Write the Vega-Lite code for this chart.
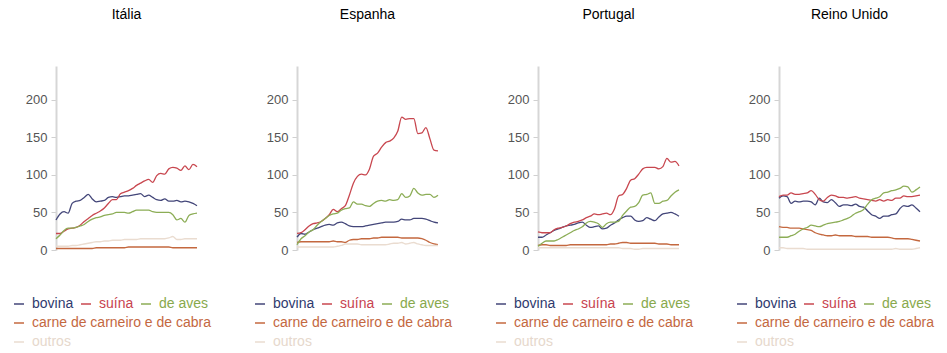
{
"$schema":"https://vega.github.io/schema/vega-lite/v6.json",
"background":"white",
"padding":{"left":12,"top":8,"right":5,"bottom":5},
"config":{
 "view":{"stroke":null},
 "font":"Liberation Sans",
 "title":{"fontSize":14,"fontWeight":"normal","color":"#000000","anchor":"middle","offset":44,"baseline":"alphabetic","font":"Liberation Sans"},
 "axisY":{"domainColor":"#d6d6d6","domainWidth":2,"tickColor":"#d0d0d0","tickSize":5,"tickWidth":1,"labelColor":"#555555","labelFontSize":13,"labelFont":"Liberation Sans","labelPadding":4,"grid":false,"tickCount":5},
 "legend":{"symbolType":"stroke","symbolSize":100,"symbolStrokeWidth":1.5,"labelFontSize":14,"labelFont":"Liberation Sans","labelOffset":6,"labelLimit":400,"columnPadding":4,"rowPadding":5,"padding":0,"orient":"none"}
},
"data":{"values":[
{"pais":"Itália","tipo":"bovina","t":0,"v":40},{"pais":"Itália","tipo":"bovina","t":1,"v":48},{"pais":"Itália","tipo":"bovina","t":2,"v":51},{"pais":"Itália","tipo":"bovina","t":3,"v":49},{"pais":"Itália","tipo":"bovina","t":4,"v":62},{"pais":"Itália","tipo":"bovina","t":5,"v":65},{"pais":"Itália","tipo":"bovina","t":6,"v":66},{"pais":"Itália","tipo":"bovina","t":7,"v":70},{"pais":"Itália","tipo":"bovina","t":8,"v":74},{"pais":"Itália","tipo":"bovina","t":9,"v":68},{"pais":"Itália","tipo":"bovina","t":10,"v":64},{"pais":"Itália","tipo":"bovina","t":11,"v":65},{"pais":"Itália","tipo":"bovina","t":12,"v":66},{"pais":"Itália","tipo":"bovina","t":13,"v":70},{"pais":"Itália","tipo":"bovina","t":14,"v":71},{"pais":"Itália","tipo":"bovina","t":15,"v":70},{"pais":"Itália","tipo":"bovina","t":16,"v":71},{"pais":"Itália","tipo":"bovina","t":17,"v":72},{"pais":"Itália","tipo":"bovina","t":18,"v":72},{"pais":"Itália","tipo":"bovina","t":19,"v":73},{"pais":"Itália","tipo":"bovina","t":20,"v":74},{"pais":"Itália","tipo":"bovina","t":21,"v":75},{"pais":"Itália","tipo":"bovina","t":22,"v":71},{"pais":"Itália","tipo":"bovina","t":23,"v":73},{"pais":"Itália","tipo":"bovina","t":24,"v":70},{"pais":"Itália","tipo":"bovina","t":25,"v":67},{"pais":"Itália","tipo":"bovina","t":26,"v":66},{"pais":"Itália","tipo":"bovina","t":27,"v":68},{"pais":"Itália","tipo":"bovina","t":28,"v":65},{"pais":"Itália","tipo":"bovina","t":29,"v":65},{"pais":"Itália","tipo":"bovina","t":30,"v":66},{"pais":"Itália","tipo":"bovina","t":31,"v":64},{"pais":"Itália","tipo":"bovina","t":32,"v":65},{"pais":"Itália","tipo":"bovina","t":33,"v":64},{"pais":"Itália","tipo":"bovina","t":34,"v":62},{"pais":"Itália","tipo":"bovina","t":35,"v":59},
{"pais":"Itália","tipo":"suína","t":0,"v":22},{"pais":"Itália","tipo":"suína","t":1,"v":22},{"pais":"Itália","tipo":"suína","t":2,"v":25},{"pais":"Itália","tipo":"suína","t":3,"v":28},{"pais":"Itália","tipo":"suína","t":4,"v":29},{"pais":"Itália","tipo":"suína","t":5,"v":30},{"pais":"Itália","tipo":"suína","t":6,"v":33},{"pais":"Itália","tipo":"suína","t":7,"v":38},{"pais":"Itália","tipo":"suína","t":8,"v":42},{"pais":"Itália","tipo":"suína","t":9,"v":46},{"pais":"Itália","tipo":"suína","t":10,"v":49},{"pais":"Itália","tipo":"suína","t":11,"v":52},{"pais":"Itália","tipo":"suína","t":12,"v":56},{"pais":"Itália","tipo":"suína","t":13,"v":62},{"pais":"Itália","tipo":"suína","t":14,"v":67},{"pais":"Itália","tipo":"suína","t":15,"v":67},{"pais":"Itália","tipo":"suína","t":16,"v":75},{"pais":"Itália","tipo":"suína","t":17,"v":77},{"pais":"Itália","tipo":"suína","t":18,"v":79},{"pais":"Itália","tipo":"suína","t":19,"v":82},{"pais":"Itália","tipo":"suína","t":20,"v":86},{"pais":"Itália","tipo":"suína","t":21,"v":89},{"pais":"Itália","tipo":"suína","t":22,"v":92},{"pais":"Itália","tipo":"suína","t":23,"v":94},{"pais":"Itália","tipo":"suína","t":24,"v":90},{"pais":"Itália","tipo":"suína","t":25,"v":99},{"pais":"Itália","tipo":"suína","t":26,"v":102},{"pais":"Itália","tipo":"suína","t":27,"v":101},{"pais":"Itália","tipo":"suína","t":28,"v":108},{"pais":"Itália","tipo":"suína","t":29,"v":110},{"pais":"Itália","tipo":"suína","t":30,"v":109},{"pais":"Itália","tipo":"suína","t":31,"v":106},{"pais":"Itália","tipo":"suína","t":32,"v":112},{"pais":"Itália","tipo":"suína","t":33,"v":107},{"pais":"Itália","tipo":"suína","t":34,"v":114},{"pais":"Itália","tipo":"suína","t":35,"v":111},
{"pais":"Itália","tipo":"de aves","t":0,"v":15},{"pais":"Itália","tipo":"de aves","t":1,"v":20},{"pais":"Itália","tipo":"de aves","t":2,"v":26},{"pais":"Itália","tipo":"de aves","t":3,"v":29},{"pais":"Itália","tipo":"de aves","t":4,"v":29},{"pais":"Itália","tipo":"de aves","t":5,"v":30},{"pais":"Itália","tipo":"de aves","t":6,"v":32},{"pais":"Itália","tipo":"de aves","t":7,"v":34},{"pais":"Itália","tipo":"de aves","t":8,"v":38},{"pais":"Itália","tipo":"de aves","t":9,"v":41},{"pais":"Itália","tipo":"de aves","t":10,"v":43},{"pais":"Itália","tipo":"de aves","t":11,"v":44},{"pais":"Itália","tipo":"de aves","t":12,"v":46},{"pais":"Itália","tipo":"de aves","t":13,"v":47},{"pais":"Itália","tipo":"de aves","t":14,"v":48},{"pais":"Itália","tipo":"de aves","t":15,"v":50},{"pais":"Itália","tipo":"de aves","t":16,"v":50},{"pais":"Itália","tipo":"de aves","t":17,"v":50},{"pais":"Itália","tipo":"de aves","t":18,"v":49},{"pais":"Itália","tipo":"de aves","t":19,"v":51},{"pais":"Itália","tipo":"de aves","t":20,"v":53},{"pais":"Itália","tipo":"de aves","t":21,"v":53},{"pais":"Itália","tipo":"de aves","t":22,"v":53},{"pais":"Itália","tipo":"de aves","t":23,"v":53},{"pais":"Itália","tipo":"de aves","t":24,"v":51},{"pais":"Itália","tipo":"de aves","t":25,"v":50},{"pais":"Itália","tipo":"de aves","t":26,"v":50},{"pais":"Itália","tipo":"de aves","t":27,"v":50},{"pais":"Itália","tipo":"de aves","t":28,"v":50},{"pais":"Itália","tipo":"de aves","t":29,"v":47},{"pais":"Itália","tipo":"de aves","t":30,"v":40},{"pais":"Itália","tipo":"de aves","t":31,"v":42},{"pais":"Itália","tipo":"de aves","t":32,"v":37},{"pais":"Itália","tipo":"de aves","t":33,"v":46},{"pais":"Itália","tipo":"de aves","t":34,"v":48},{"pais":"Itália","tipo":"de aves","t":35,"v":49},
{"pais":"Itália","tipo":"carne de carneiro e de cabra","t":0,"v":2},{"pais":"Itália","tipo":"carne de carneiro e de cabra","t":1,"v":2},{"pais":"Itália","tipo":"carne de carneiro e de cabra","t":2,"v":2},{"pais":"Itália","tipo":"carne de carneiro e de cabra","t":3,"v":2},{"pais":"Itália","tipo":"carne de carneiro e de cabra","t":4,"v":2},{"pais":"Itália","tipo":"carne de carneiro e de cabra","t":5,"v":2},{"pais":"Itália","tipo":"carne de carneiro e de cabra","t":6,"v":2},{"pais":"Itália","tipo":"carne de carneiro e de cabra","t":7,"v":2},{"pais":"Itália","tipo":"carne de carneiro e de cabra","t":8,"v":2},{"pais":"Itália","tipo":"carne de carneiro e de cabra","t":9,"v":2},{"pais":"Itália","tipo":"carne de carneiro e de cabra","t":10,"v":3},{"pais":"Itália","tipo":"carne de carneiro e de cabra","t":11,"v":3},{"pais":"Itália","tipo":"carne de carneiro e de cabra","t":12,"v":3},{"pais":"Itália","tipo":"carne de carneiro e de cabra","t":13,"v":3},{"pais":"Itália","tipo":"carne de carneiro e de cabra","t":14,"v":3},{"pais":"Itália","tipo":"carne de carneiro e de cabra","t":15,"v":3},{"pais":"Itália","tipo":"carne de carneiro e de cabra","t":16,"v":3},{"pais":"Itália","tipo":"carne de carneiro e de cabra","t":17,"v":3},{"pais":"Itália","tipo":"carne de carneiro e de cabra","t":18,"v":4},{"pais":"Itália","tipo":"carne de carneiro e de cabra","t":19,"v":4},{"pais":"Itália","tipo":"carne de carneiro e de cabra","t":20,"v":4},{"pais":"Itália","tipo":"carne de carneiro e de cabra","t":21,"v":4},{"pais":"Itália","tipo":"carne de carneiro e de cabra","t":22,"v":4},{"pais":"Itália","tipo":"carne de carneiro e de cabra","t":23,"v":4},{"pais":"Itália","tipo":"carne de carneiro e de cabra","t":24,"v":4},{"pais":"Itália","tipo":"carne de carneiro e de cabra","t":25,"v":4},{"pais":"Itália","tipo":"carne de carneiro e de cabra","t":26,"v":4},{"pais":"Itália","tipo":"carne de carneiro e de cabra","t":27,"v":4},{"pais":"Itália","tipo":"carne de carneiro e de cabra","t":28,"v":4},{"pais":"Itália","tipo":"carne de carneiro e de cabra","t":29,"v":3},{"pais":"Itália","tipo":"carne de carneiro e de cabra","t":30,"v":3},{"pais":"Itália","tipo":"carne de carneiro e de cabra","t":31,"v":3},{"pais":"Itália","tipo":"carne de carneiro e de cabra","t":32,"v":3},{"pais":"Itália","tipo":"carne de carneiro e de cabra","t":33,"v":3},{"pais":"Itália","tipo":"carne de carneiro e de cabra","t":34,"v":3},{"pais":"Itália","tipo":"carne de carneiro e de cabra","t":35,"v":3},
{"pais":"Itália","tipo":"outros","t":0,"v":5},{"pais":"Itália","tipo":"outros","t":1,"v":5},{"pais":"Itália","tipo":"outros","t":2,"v":5},{"pais":"Itália","tipo":"outros","t":3,"v":5},{"pais":"Itália","tipo":"outros","t":4,"v":6},{"pais":"Itália","tipo":"outros","t":5,"v":6},{"pais":"Itália","tipo":"outros","t":6,"v":7},{"pais":"Itália","tipo":"outros","t":7,"v":8},{"pais":"Itália","tipo":"outros","t":8,"v":9},{"pais":"Itália","tipo":"outros","t":9,"v":10},{"pais":"Itália","tipo":"outros","t":10,"v":11},{"pais":"Itália","tipo":"outros","t":11,"v":11},{"pais":"Itália","tipo":"outros","t":12,"v":12},{"pais":"Itália","tipo":"outros","t":13,"v":12},{"pais":"Itália","tipo":"outros","t":14,"v":13},{"pais":"Itália","tipo":"outros","t":15,"v":13},{"pais":"Itália","tipo":"outros","t":16,"v":13},{"pais":"Itália","tipo":"outros","t":17,"v":14},{"pais":"Itália","tipo":"outros","t":18,"v":14},{"pais":"Itália","tipo":"outros","t":19,"v":14},{"pais":"Itália","tipo":"outros","t":20,"v":14},{"pais":"Itália","tipo":"outros","t":21,"v":15},{"pais":"Itália","tipo":"outros","t":22,"v":15},{"pais":"Itália","tipo":"outros","t":23,"v":15},{"pais":"Itália","tipo":"outros","t":24,"v":15},{"pais":"Itália","tipo":"outros","t":25,"v":15},{"pais":"Itália","tipo":"outros","t":26,"v":15},{"pais":"Itália","tipo":"outros","t":27,"v":15},{"pais":"Itália","tipo":"outros","t":28,"v":16},{"pais":"Itália","tipo":"outros","t":29,"v":18},{"pais":"Itália","tipo":"outros","t":30,"v":14},{"pais":"Itália","tipo":"outros","t":31,"v":14},{"pais":"Itália","tipo":"outros","t":32,"v":15},{"pais":"Itália","tipo":"outros","t":33,"v":15},{"pais":"Itália","tipo":"outros","t":34,"v":15},{"pais":"Itália","tipo":"outros","t":35,"v":15},
{"pais":"Espanha","tipo":"bovina","t":0,"v":17},{"pais":"Espanha","tipo":"bovina","t":1,"v":22},{"pais":"Espanha","tipo":"bovina","t":2,"v":21},{"pais":"Espanha","tipo":"bovina","t":3,"v":24},{"pais":"Espanha","tipo":"bovina","t":4,"v":27},{"pais":"Espanha","tipo":"bovina","t":5,"v":29},{"pais":"Espanha","tipo":"bovina","t":6,"v":31},{"pais":"Espanha","tipo":"bovina","t":7,"v":33},{"pais":"Espanha","tipo":"bovina","t":8,"v":34},{"pais":"Espanha","tipo":"bovina","t":9,"v":33},{"pais":"Espanha","tipo":"bovina","t":10,"v":36},{"pais":"Espanha","tipo":"bovina","t":11,"v":37},{"pais":"Espanha","tipo":"bovina","t":12,"v":35},{"pais":"Espanha","tipo":"bovina","t":13,"v":32},{"pais":"Espanha","tipo":"bovina","t":14,"v":31},{"pais":"Espanha","tipo":"bovina","t":15,"v":31},{"pais":"Espanha","tipo":"bovina","t":16,"v":31},{"pais":"Espanha","tipo":"bovina","t":17,"v":32},{"pais":"Espanha","tipo":"bovina","t":18,"v":33},{"pais":"Espanha","tipo":"bovina","t":19,"v":34},{"pais":"Espanha","tipo":"bovina","t":20,"v":35},{"pais":"Espanha","tipo":"bovina","t":21,"v":36},{"pais":"Espanha","tipo":"bovina","t":22,"v":37},{"pais":"Espanha","tipo":"bovina","t":23,"v":37},{"pais":"Espanha","tipo":"bovina","t":24,"v":37},{"pais":"Espanha","tipo":"bovina","t":25,"v":38},{"pais":"Espanha","tipo":"bovina","t":26,"v":41},{"pais":"Espanha","tipo":"bovina","t":27,"v":40},{"pais":"Espanha","tipo":"bovina","t":28,"v":40},{"pais":"Espanha","tipo":"bovina","t":29,"v":42},{"pais":"Espanha","tipo":"bovina","t":30,"v":42},{"pais":"Espanha","tipo":"bovina","t":31,"v":42},{"pais":"Espanha","tipo":"bovina","t":32,"v":41},{"pais":"Espanha","tipo":"bovina","t":33,"v":39},{"pais":"Espanha","tipo":"bovina","t":34,"v":37},{"pais":"Espanha","tipo":"bovina","t":35,"v":36},
{"pais":"Espanha","tipo":"suína","t":0,"v":22},{"pais":"Espanha","tipo":"suína","t":1,"v":23},{"pais":"Espanha","tipo":"suína","t":2,"v":27},{"pais":"Espanha","tipo":"suína","t":3,"v":32},{"pais":"Espanha","tipo":"suína","t":4,"v":35},{"pais":"Espanha","tipo":"suína","t":5,"v":36},{"pais":"Espanha","tipo":"suína","t":6,"v":38},{"pais":"Espanha","tipo":"suína","t":7,"v":42},{"pais":"Espanha","tipo":"suína","t":8,"v":47},{"pais":"Espanha","tipo":"suína","t":9,"v":54},{"pais":"Espanha","tipo":"suína","t":10,"v":51},{"pais":"Espanha","tipo":"suína","t":11,"v":55},{"pais":"Espanha","tipo":"suína","t":12,"v":59},{"pais":"Espanha","tipo":"suína","t":13,"v":73},{"pais":"Espanha","tipo":"suína","t":14,"v":89},{"pais":"Espanha","tipo":"suína","t":15,"v":98},{"pais":"Espanha","tipo":"suína","t":16,"v":101},{"pais":"Espanha","tipo":"suína","t":17,"v":100},{"pais":"Espanha","tipo":"suína","t":18,"v":108},{"pais":"Espanha","tipo":"suína","t":19,"v":125},{"pais":"Espanha","tipo":"suína","t":20,"v":129},{"pais":"Espanha","tipo":"suína","t":21,"v":137},{"pais":"Espanha","tipo":"suína","t":22,"v":143},{"pais":"Espanha","tipo":"suína","t":23,"v":145},{"pais":"Espanha","tipo":"suína","t":24,"v":149},{"pais":"Espanha","tipo":"suína","t":25,"v":158},{"pais":"Espanha","tipo":"suína","t":26,"v":177},{"pais":"Espanha","tipo":"suína","t":27,"v":174},{"pais":"Espanha","tipo":"suína","t":28,"v":175},{"pais":"Espanha","tipo":"suína","t":29,"v":175},{"pais":"Espanha","tipo":"suína","t":30,"v":155},{"pais":"Espanha","tipo":"suína","t":31,"v":156},{"pais":"Espanha","tipo":"suína","t":32,"v":163},{"pais":"Espanha","tipo":"suína","t":33,"v":148},{"pais":"Espanha","tipo":"suína","t":34,"v":133},{"pais":"Espanha","tipo":"suína","t":35,"v":132},
{"pais":"Espanha","tipo":"de aves","t":0,"v":7},{"pais":"Espanha","tipo":"de aves","t":1,"v":15},{"pais":"Espanha","tipo":"de aves","t":2,"v":19},{"pais":"Espanha","tipo":"de aves","t":3,"v":24},{"pais":"Espanha","tipo":"de aves","t":4,"v":27},{"pais":"Espanha","tipo":"de aves","t":5,"v":33},{"pais":"Espanha","tipo":"de aves","t":6,"v":38},{"pais":"Espanha","tipo":"de aves","t":7,"v":42},{"pais":"Espanha","tipo":"de aves","t":8,"v":46},{"pais":"Espanha","tipo":"de aves","t":9,"v":48},{"pais":"Espanha","tipo":"de aves","t":10,"v":49},{"pais":"Espanha","tipo":"de aves","t":11,"v":53},{"pais":"Espanha","tipo":"de aves","t":12,"v":55},{"pais":"Espanha","tipo":"de aves","t":13,"v":56},{"pais":"Espanha","tipo":"de aves","t":14,"v":64},{"pais":"Espanha","tipo":"de aves","t":15,"v":61},{"pais":"Espanha","tipo":"de aves","t":16,"v":61},{"pais":"Espanha","tipo":"de aves","t":17,"v":59},{"pais":"Espanha","tipo":"de aves","t":18,"v":58},{"pais":"Espanha","tipo":"de aves","t":19,"v":62},{"pais":"Espanha","tipo":"de aves","t":20,"v":65},{"pais":"Espanha","tipo":"de aves","t":21,"v":66},{"pais":"Espanha","tipo":"de aves","t":22,"v":65},{"pais":"Espanha","tipo":"de aves","t":23,"v":67},{"pais":"Espanha","tipo":"de aves","t":24,"v":66},{"pais":"Espanha","tipo":"de aves","t":25,"v":67},{"pais":"Espanha","tipo":"de aves","t":26,"v":75},{"pais":"Espanha","tipo":"de aves","t":27,"v":70},{"pais":"Espanha","tipo":"de aves","t":28,"v":72},{"pais":"Espanha","tipo":"de aves","t":29,"v":82},{"pais":"Espanha","tipo":"de aves","t":30,"v":76},{"pais":"Espanha","tipo":"de aves","t":31,"v":73},{"pais":"Espanha","tipo":"de aves","t":32,"v":74},{"pais":"Espanha","tipo":"de aves","t":33,"v":74},{"pais":"Espanha","tipo":"de aves","t":34,"v":70},{"pais":"Espanha","tipo":"de aves","t":35,"v":73},
{"pais":"Espanha","tipo":"carne de carneiro e de cabra","t":0,"v":10},{"pais":"Espanha","tipo":"carne de carneiro e de cabra","t":1,"v":11},{"pais":"Espanha","tipo":"carne de carneiro e de cabra","t":2,"v":11},{"pais":"Espanha","tipo":"carne de carneiro e de cabra","t":3,"v":11},{"pais":"Espanha","tipo":"carne de carneiro e de cabra","t":4,"v":11},{"pais":"Espanha","tipo":"carne de carneiro e de cabra","t":5,"v":11},{"pais":"Espanha","tipo":"carne de carneiro e de cabra","t":6,"v":11},{"pais":"Espanha","tipo":"carne de carneiro e de cabra","t":7,"v":11},{"pais":"Espanha","tipo":"carne de carneiro e de cabra","t":8,"v":11},{"pais":"Espanha","tipo":"carne de carneiro e de cabra","t":9,"v":12},{"pais":"Espanha","tipo":"carne de carneiro e de cabra","t":10,"v":11},{"pais":"Espanha","tipo":"carne de carneiro e de cabra","t":11,"v":11},{"pais":"Espanha","tipo":"carne de carneiro e de cabra","t":12,"v":10},{"pais":"Espanha","tipo":"carne de carneiro e de cabra","t":13,"v":13},{"pais":"Espanha","tipo":"carne de carneiro e de cabra","t":14,"v":14},{"pais":"Espanha","tipo":"carne de carneiro e de cabra","t":15,"v":14},{"pais":"Espanha","tipo":"carne de carneiro e de cabra","t":16,"v":15},{"pais":"Espanha","tipo":"carne de carneiro e de cabra","t":17,"v":15},{"pais":"Espanha","tipo":"carne de carneiro e de cabra","t":18,"v":15},{"pais":"Espanha","tipo":"carne de carneiro e de cabra","t":19,"v":16},{"pais":"Espanha","tipo":"carne de carneiro e de cabra","t":20,"v":16},{"pais":"Espanha","tipo":"carne de carneiro e de cabra","t":21,"v":17},{"pais":"Espanha","tipo":"carne de carneiro e de cabra","t":22,"v":17},{"pais":"Espanha","tipo":"carne de carneiro e de cabra","t":23,"v":17},{"pais":"Espanha","tipo":"carne de carneiro e de cabra","t":24,"v":17},{"pais":"Espanha","tipo":"carne de carneiro e de cabra","t":25,"v":17},{"pais":"Espanha","tipo":"carne de carneiro e de cabra","t":26,"v":16},{"pais":"Espanha","tipo":"carne de carneiro e de cabra","t":27,"v":16},{"pais":"Espanha","tipo":"carne de carneiro e de cabra","t":28,"v":16},{"pais":"Espanha","tipo":"carne de carneiro e de cabra","t":29,"v":16},{"pais":"Espanha","tipo":"carne de carneiro e de cabra","t":30,"v":16},{"pais":"Espanha","tipo":"carne de carneiro e de cabra","t":31,"v":15},{"pais":"Espanha","tipo":"carne de carneiro e de cabra","t":32,"v":13},{"pais":"Espanha","tipo":"carne de carneiro e de cabra","t":33,"v":10},{"pais":"Espanha","tipo":"carne de carneiro e de cabra","t":34,"v":8},{"pais":"Espanha","tipo":"carne de carneiro e de cabra","t":35,"v":7},
{"pais":"Espanha","tipo":"outros","t":0,"v":4},{"pais":"Espanha","tipo":"outros","t":1,"v":4},{"pais":"Espanha","tipo":"outros","t":2,"v":4},{"pais":"Espanha","tipo":"outros","t":3,"v":4},{"pais":"Espanha","tipo":"outros","t":4,"v":4},{"pais":"Espanha","tipo":"outros","t":5,"v":4},{"pais":"Espanha","tipo":"outros","t":6,"v":4},{"pais":"Espanha","tipo":"outros","t":7,"v":4},{"pais":"Espanha","tipo":"outros","t":8,"v":4},{"pais":"Espanha","tipo":"outros","t":9,"v":4},{"pais":"Espanha","tipo":"outros","t":10,"v":5},{"pais":"Espanha","tipo":"outros","t":11,"v":6},{"pais":"Espanha","tipo":"outros","t":12,"v":8},{"pais":"Espanha","tipo":"outros","t":13,"v":8},{"pais":"Espanha","tipo":"outros","t":14,"v":8},{"pais":"Espanha","tipo":"outros","t":15,"v":8},{"pais":"Espanha","tipo":"outros","t":16,"v":7},{"pais":"Espanha","tipo":"outros","t":17,"v":7},{"pais":"Espanha","tipo":"outros","t":18,"v":7},{"pais":"Espanha","tipo":"outros","t":19,"v":7},{"pais":"Espanha","tipo":"outros","t":20,"v":7},{"pais":"Espanha","tipo":"outros","t":21,"v":7},{"pais":"Espanha","tipo":"outros","t":22,"v":7},{"pais":"Espanha","tipo":"outros","t":23,"v":8},{"pais":"Espanha","tipo":"outros","t":24,"v":9},{"pais":"Espanha","tipo":"outros","t":25,"v":9},{"pais":"Espanha","tipo":"outros","t":26,"v":10},{"pais":"Espanha","tipo":"outros","t":27,"v":8},{"pais":"Espanha","tipo":"outros","t":28,"v":9},{"pais":"Espanha","tipo":"outros","t":29,"v":10},{"pais":"Espanha","tipo":"outros","t":30,"v":8},{"pais":"Espanha","tipo":"outros","t":31,"v":7},{"pais":"Espanha","tipo":"outros","t":32,"v":6},{"pais":"Espanha","tipo":"outros","t":33,"v":6},{"pais":"Espanha","tipo":"outros","t":34,"v":6},{"pais":"Espanha","tipo":"outros","t":35,"v":6},
{"pais":"Portugal","tipo":"bovina","t":0,"v":17},{"pais":"Portugal","tipo":"bovina","t":1,"v":17},{"pais":"Portugal","tipo":"bovina","t":2,"v":20},{"pais":"Portugal","tipo":"bovina","t":3,"v":23},{"pais":"Portugal","tipo":"bovina","t":4,"v":26},{"pais":"Portugal","tipo":"bovina","t":5,"v":28},{"pais":"Portugal","tipo":"bovina","t":6,"v":30},{"pais":"Portugal","tipo":"bovina","t":7,"v":32},{"pais":"Portugal","tipo":"bovina","t":8,"v":33},{"pais":"Portugal","tipo":"bovina","t":9,"v":34},{"pais":"Portugal","tipo":"bovina","t":10,"v":36},{"pais":"Portugal","tipo":"bovina","t":11,"v":37},{"pais":"Portugal","tipo":"bovina","t":12,"v":33},{"pais":"Portugal","tipo":"bovina","t":13,"v":30},{"pais":"Portugal","tipo":"bovina","t":14,"v":31},{"pais":"Portugal","tipo":"bovina","t":15,"v":32},{"pais":"Portugal","tipo":"bovina","t":16,"v":28},{"pais":"Portugal","tipo":"bovina","t":17,"v":29},{"pais":"Portugal","tipo":"bovina","t":18,"v":33},{"pais":"Portugal","tipo":"bovina","t":19,"v":36},{"pais":"Portugal","tipo":"bovina","t":20,"v":40},{"pais":"Portugal","tipo":"bovina","t":21,"v":43},{"pais":"Portugal","tipo":"bovina","t":22,"v":45},{"pais":"Portugal","tipo":"bovina","t":23,"v":45},{"pais":"Portugal","tipo":"bovina","t":24,"v":40},{"pais":"Portugal","tipo":"bovina","t":25,"v":38},{"pais":"Portugal","tipo":"bovina","t":26,"v":39},{"pais":"Portugal","tipo":"bovina","t":27,"v":43},{"pais":"Portugal","tipo":"bovina","t":28,"v":41},{"pais":"Portugal","tipo":"bovina","t":29,"v":39},{"pais":"Portugal","tipo":"bovina","t":30,"v":44},{"pais":"Portugal","tipo":"bovina","t":31,"v":48},{"pais":"Portugal","tipo":"bovina","t":32,"v":49},{"pais":"Portugal","tipo":"bovina","t":33,"v":50},{"pais":"Portugal","tipo":"bovina","t":34,"v":48},{"pais":"Portugal","tipo":"bovina","t":35,"v":45},
{"pais":"Portugal","tipo":"suína","t":0,"v":24},{"pais":"Portugal","tipo":"suína","t":1,"v":23},{"pais":"Portugal","tipo":"suína","t":2,"v":23},{"pais":"Portugal","tipo":"suína","t":3,"v":23},{"pais":"Portugal","tipo":"suína","t":4,"v":27},{"pais":"Portugal","tipo":"suína","t":5,"v":29},{"pais":"Portugal","tipo":"suína","t":6,"v":30},{"pais":"Portugal","tipo":"suína","t":7,"v":32},{"pais":"Portugal","tipo":"suína","t":8,"v":35},{"pais":"Portugal","tipo":"suína","t":9,"v":37},{"pais":"Portugal","tipo":"suína","t":10,"v":38},{"pais":"Portugal","tipo":"suína","t":11,"v":40},{"pais":"Portugal","tipo":"suína","t":12,"v":43},{"pais":"Portugal","tipo":"suína","t":13,"v":45},{"pais":"Portugal","tipo":"suína","t":14,"v":48},{"pais":"Portugal","tipo":"suína","t":15,"v":47},{"pais":"Portugal","tipo":"suína","t":16,"v":48},{"pais":"Portugal","tipo":"suína","t":17,"v":49},{"pais":"Portugal","tipo":"suína","t":18,"v":47},{"pais":"Portugal","tipo":"suína","t":19,"v":55},{"pais":"Portugal","tipo":"suína","t":20,"v":72},{"pais":"Portugal","tipo":"suína","t":21,"v":74},{"pais":"Portugal","tipo":"suína","t":22,"v":82},{"pais":"Portugal","tipo":"suína","t":23,"v":93},{"pais":"Portugal","tipo":"suína","t":24,"v":95},{"pais":"Portugal","tipo":"suína","t":25,"v":101},{"pais":"Portugal","tipo":"suína","t":26,"v":108},{"pais":"Portugal","tipo":"suína","t":27,"v":110},{"pais":"Portugal","tipo":"suína","t":28,"v":110},{"pais":"Portugal","tipo":"suína","t":29,"v":110},{"pais":"Portugal","tipo":"suína","t":30,"v":108},{"pais":"Portugal","tipo":"suína","t":31,"v":111},{"pais":"Portugal","tipo":"suína","t":32,"v":122},{"pais":"Portugal","tipo":"suína","t":33,"v":117},{"pais":"Portugal","tipo":"suína","t":34,"v":118},{"pais":"Portugal","tipo":"suína","t":35,"v":112},
{"pais":"Portugal","tipo":"de aves","t":0,"v":5},{"pais":"Portugal","tipo":"de aves","t":1,"v":9},{"pais":"Portugal","tipo":"de aves","t":2,"v":12},{"pais":"Portugal","tipo":"de aves","t":3,"v":12},{"pais":"Portugal","tipo":"de aves","t":4,"v":12},{"pais":"Portugal","tipo":"de aves","t":5,"v":14},{"pais":"Portugal","tipo":"de aves","t":6,"v":17},{"pais":"Portugal","tipo":"de aves","t":7,"v":20},{"pais":"Portugal","tipo":"de aves","t":8,"v":23},{"pais":"Portugal","tipo":"de aves","t":9,"v":26},{"pais":"Portugal","tipo":"de aves","t":10,"v":28},{"pais":"Portugal","tipo":"de aves","t":11,"v":31},{"pais":"Portugal","tipo":"de aves","t":12,"v":36},{"pais":"Portugal","tipo":"de aves","t":13,"v":38},{"pais":"Portugal","tipo":"de aves","t":14,"v":37},{"pais":"Portugal","tipo":"de aves","t":15,"v":35},{"pais":"Portugal","tipo":"de aves","t":16,"v":30},{"pais":"Portugal","tipo":"de aves","t":17,"v":35},{"pais":"Portugal","tipo":"de aves","t":18,"v":37},{"pais":"Portugal","tipo":"de aves","t":19,"v":37},{"pais":"Portugal","tipo":"de aves","t":20,"v":38},{"pais":"Portugal","tipo":"de aves","t":21,"v":46},{"pais":"Portugal","tipo":"de aves","t":22,"v":52},{"pais":"Portugal","tipo":"de aves","t":23,"v":57},{"pais":"Portugal","tipo":"de aves","t":24,"v":58},{"pais":"Portugal","tipo":"de aves","t":25,"v":63},{"pais":"Portugal","tipo":"de aves","t":26,"v":73},{"pais":"Portugal","tipo":"de aves","t":27,"v":74},{"pais":"Portugal","tipo":"de aves","t":28,"v":76},{"pais":"Portugal","tipo":"de aves","t":29,"v":62},{"pais":"Portugal","tipo":"de aves","t":30,"v":62},{"pais":"Portugal","tipo":"de aves","t":31,"v":65},{"pais":"Portugal","tipo":"de aves","t":32,"v":66},{"pais":"Portugal","tipo":"de aves","t":33,"v":72},{"pais":"Portugal","tipo":"de aves","t":34,"v":77},{"pais":"Portugal","tipo":"de aves","t":35,"v":80},
{"pais":"Portugal","tipo":"carne de carneiro e de cabra","t":0,"v":6},{"pais":"Portugal","tipo":"carne de carneiro e de cabra","t":1,"v":7},{"pais":"Portugal","tipo":"carne de carneiro e de cabra","t":2,"v":7},{"pais":"Portugal","tipo":"carne de carneiro e de cabra","t":3,"v":6},{"pais":"Portugal","tipo":"carne de carneiro e de cabra","t":4,"v":6},{"pais":"Portugal","tipo":"carne de carneiro e de cabra","t":5,"v":6},{"pais":"Portugal","tipo":"carne de carneiro e de cabra","t":6,"v":6},{"pais":"Portugal","tipo":"carne de carneiro e de cabra","t":7,"v":6},{"pais":"Portugal","tipo":"carne de carneiro e de cabra","t":8,"v":7},{"pais":"Portugal","tipo":"carne de carneiro e de cabra","t":9,"v":7},{"pais":"Portugal","tipo":"carne de carneiro e de cabra","t":10,"v":7},{"pais":"Portugal","tipo":"carne de carneiro e de cabra","t":11,"v":7},{"pais":"Portugal","tipo":"carne de carneiro e de cabra","t":12,"v":7},{"pais":"Portugal","tipo":"carne de carneiro e de cabra","t":13,"v":7},{"pais":"Portugal","tipo":"carne de carneiro e de cabra","t":14,"v":7},{"pais":"Portugal","tipo":"carne de carneiro e de cabra","t":15,"v":7},{"pais":"Portugal","tipo":"carne de carneiro e de cabra","t":16,"v":7},{"pais":"Portugal","tipo":"carne de carneiro e de cabra","t":17,"v":7},{"pais":"Portugal","tipo":"carne de carneiro e de cabra","t":18,"v":8},{"pais":"Portugal","tipo":"carne de carneiro e de cabra","t":19,"v":8},{"pais":"Portugal","tipo":"carne de carneiro e de cabra","t":20,"v":9},{"pais":"Portugal","tipo":"carne de carneiro e de cabra","t":21,"v":10},{"pais":"Portugal","tipo":"carne de carneiro e de cabra","t":22,"v":10},{"pais":"Portugal","tipo":"carne de carneiro e de cabra","t":23,"v":9},{"pais":"Portugal","tipo":"carne de carneiro e de cabra","t":24,"v":9},{"pais":"Portugal","tipo":"carne de carneiro e de cabra","t":25,"v":9},{"pais":"Portugal","tipo":"carne de carneiro e de cabra","t":26,"v":9},{"pais":"Portugal","tipo":"carne de carneiro e de cabra","t":27,"v":9},{"pais":"Portugal","tipo":"carne de carneiro e de cabra","t":28,"v":9},{"pais":"Portugal","tipo":"carne de carneiro e de cabra","t":29,"v":9},{"pais":"Portugal","tipo":"carne de carneiro e de cabra","t":30,"v":8},{"pais":"Portugal","tipo":"carne de carneiro e de cabra","t":31,"v":8},{"pais":"Portugal","tipo":"carne de carneiro e de cabra","t":32,"v":8},{"pais":"Portugal","tipo":"carne de carneiro e de cabra","t":33,"v":7},{"pais":"Portugal","tipo":"carne de carneiro e de cabra","t":34,"v":7},{"pais":"Portugal","tipo":"carne de carneiro e de cabra","t":35,"v":7},
{"pais":"Portugal","tipo":"outros","t":0,"v":3},{"pais":"Portugal","tipo":"outros","t":1,"v":3},{"pais":"Portugal","tipo":"outros","t":2,"v":3},{"pais":"Portugal","tipo":"outros","t":3,"v":3},{"pais":"Portugal","tipo":"outros","t":4,"v":3},{"pais":"Portugal","tipo":"outros","t":5,"v":3},{"pais":"Portugal","tipo":"outros","t":6,"v":3},{"pais":"Portugal","tipo":"outros","t":7,"v":3},{"pais":"Portugal","tipo":"outros","t":8,"v":3},{"pais":"Portugal","tipo":"outros","t":9,"v":3},{"pais":"Portugal","tipo":"outros","t":10,"v":3},{"pais":"Portugal","tipo":"outros","t":11,"v":3},{"pais":"Portugal","tipo":"outros","t":12,"v":3},{"pais":"Portugal","tipo":"outros","t":13,"v":3},{"pais":"Portugal","tipo":"outros","t":14,"v":3},{"pais":"Portugal","tipo":"outros","t":15,"v":3},{"pais":"Portugal","tipo":"outros","t":16,"v":3},{"pais":"Portugal","tipo":"outros","t":17,"v":3},{"pais":"Portugal","tipo":"outros","t":18,"v":3},{"pais":"Portugal","tipo":"outros","t":19,"v":3},{"pais":"Portugal","tipo":"outros","t":20,"v":3},{"pais":"Portugal","tipo":"outros","t":21,"v":2},{"pais":"Portugal","tipo":"outros","t":22,"v":2},{"pais":"Portugal","tipo":"outros","t":23,"v":2},{"pais":"Portugal","tipo":"outros","t":24,"v":1},{"pais":"Portugal","tipo":"outros","t":25,"v":1},{"pais":"Portugal","tipo":"outros","t":26,"v":2},{"pais":"Portugal","tipo":"outros","t":27,"v":2},{"pais":"Portugal","tipo":"outros","t":28,"v":2},{"pais":"Portugal","tipo":"outros","t":29,"v":2},{"pais":"Portugal","tipo":"outros","t":30,"v":2},{"pais":"Portugal","tipo":"outros","t":31,"v":2},{"pais":"Portugal","tipo":"outros","t":32,"v":2},{"pais":"Portugal","tipo":"outros","t":33,"v":2},{"pais":"Portugal","tipo":"outros","t":34,"v":2},{"pais":"Portugal","tipo":"outros","t":35,"v":2},
{"pais":"Reino Unido","tipo":"bovina","t":0,"v":69},{"pais":"Reino Unido","tipo":"bovina","t":1,"v":72},{"pais":"Reino Unido","tipo":"bovina","t":2,"v":71},{"pais":"Reino Unido","tipo":"bovina","t":3,"v":62},{"pais":"Reino Unido","tipo":"bovina","t":4,"v":65},{"pais":"Reino Unido","tipo":"bovina","t":5,"v":64},{"pais":"Reino Unido","tipo":"bovina","t":6,"v":65},{"pais":"Reino Unido","tipo":"bovina","t":7,"v":65},{"pais":"Reino Unido","tipo":"bovina","t":8,"v":64},{"pais":"Reino Unido","tipo":"bovina","t":9,"v":60},{"pais":"Reino Unido","tipo":"bovina","t":10,"v":69},{"pais":"Reino Unido","tipo":"bovina","t":11,"v":64},{"pais":"Reino Unido","tipo":"bovina","t":12,"v":63},{"pais":"Reino Unido","tipo":"bovina","t":13,"v":67},{"pais":"Reino Unido","tipo":"bovina","t":14,"v":63},{"pais":"Reino Unido","tipo":"bovina","t":15,"v":58},{"pais":"Reino Unido","tipo":"bovina","t":16,"v":60},{"pais":"Reino Unido","tipo":"bovina","t":17,"v":60},{"pais":"Reino Unido","tipo":"bovina","t":18,"v":59},{"pais":"Reino Unido","tipo":"bovina","t":19,"v":61},{"pais":"Reino Unido","tipo":"bovina","t":20,"v":58},{"pais":"Reino Unido","tipo":"bovina","t":21,"v":57},{"pais":"Reino Unido","tipo":"bovina","t":22,"v":52},{"pais":"Reino Unido","tipo":"bovina","t":23,"v":47},{"pais":"Reino Unido","tipo":"bovina","t":24,"v":45},{"pais":"Reino Unido","tipo":"bovina","t":25,"v":42},{"pais":"Reino Unido","tipo":"bovina","t":26,"v":45},{"pais":"Reino Unido","tipo":"bovina","t":27,"v":45},{"pais":"Reino Unido","tipo":"bovina","t":28,"v":47},{"pais":"Reino Unido","tipo":"bovina","t":29,"v":48},{"pais":"Reino Unido","tipo":"bovina","t":30,"v":55},{"pais":"Reino Unido","tipo":"bovina","t":31,"v":59},{"pais":"Reino Unido","tipo":"bovina","t":32,"v":58},{"pais":"Reino Unido","tipo":"bovina","t":33,"v":60},{"pais":"Reino Unido","tipo":"bovina","t":34,"v":56},{"pais":"Reino Unido","tipo":"bovina","t":35,"v":51},
{"pais":"Reino Unido","tipo":"suína","t":0,"v":71},{"pais":"Reino Unido","tipo":"suína","t":1,"v":73},{"pais":"Reino Unido","tipo":"suína","t":2,"v":73},{"pais":"Reino Unido","tipo":"suína","t":3,"v":76},{"pais":"Reino Unido","tipo":"suína","t":4,"v":74},{"pais":"Reino Unido","tipo":"suína","t":5,"v":74},{"pais":"Reino Unido","tipo":"suína","t":6,"v":75},{"pais":"Reino Unido","tipo":"suína","t":7,"v":76},{"pais":"Reino Unido","tipo":"suína","t":8,"v":79},{"pais":"Reino Unido","tipo":"suína","t":9,"v":74},{"pais":"Reino Unido","tipo":"suína","t":10,"v":67},{"pais":"Reino Unido","tipo":"suína","t":11,"v":65},{"pais":"Reino Unido","tipo":"suína","t":12,"v":70},{"pais":"Reino Unido","tipo":"suína","t":13,"v":73},{"pais":"Reino Unido","tipo":"suína","t":14,"v":72},{"pais":"Reino Unido","tipo":"suína","t":15,"v":70},{"pais":"Reino Unido","tipo":"suína","t":16,"v":70},{"pais":"Reino Unido","tipo":"suína","t":17,"v":69},{"pais":"Reino Unido","tipo":"suína","t":18,"v":70},{"pais":"Reino Unido","tipo":"suína","t":19,"v":71},{"pais":"Reino Unido","tipo":"suína","t":20,"v":69},{"pais":"Reino Unido","tipo":"suína","t":21,"v":68},{"pais":"Reino Unido","tipo":"suína","t":22,"v":67},{"pais":"Reino Unido","tipo":"suína","t":23,"v":66},{"pais":"Reino Unido","tipo":"suína","t":24,"v":65},{"pais":"Reino Unido","tipo":"suína","t":25,"v":67},{"pais":"Reino Unido","tipo":"suína","t":26,"v":65},{"pais":"Reino Unido","tipo":"suína","t":27,"v":67},{"pais":"Reino Unido","tipo":"suína","t":28,"v":66},{"pais":"Reino Unido","tipo":"suína","t":29,"v":69},{"pais":"Reino Unido","tipo":"suína","t":30,"v":69},{"pais":"Reino Unido","tipo":"suína","t":31,"v":72},{"pais":"Reino Unido","tipo":"suína","t":32,"v":71},{"pais":"Reino Unido","tipo":"suína","t":33,"v":71},{"pais":"Reino Unido","tipo":"suína","t":34,"v":72},{"pais":"Reino Unido","tipo":"suína","t":35,"v":73},
{"pais":"Reino Unido","tipo":"de aves","t":0,"v":17},{"pais":"Reino Unido","tipo":"de aves","t":1,"v":17},{"pais":"Reino Unido","tipo":"de aves","t":2,"v":17},{"pais":"Reino Unido","tipo":"de aves","t":3,"v":19},{"pais":"Reino Unido","tipo":"de aves","t":4,"v":21},{"pais":"Reino Unido","tipo":"de aves","t":5,"v":25},{"pais":"Reino Unido","tipo":"de aves","t":6,"v":28},{"pais":"Reino Unido","tipo":"de aves","t":7,"v":30},{"pais":"Reino Unido","tipo":"de aves","t":8,"v":33},{"pais":"Reino Unido","tipo":"de aves","t":9,"v":32},{"pais":"Reino Unido","tipo":"de aves","t":10,"v":31},{"pais":"Reino Unido","tipo":"de aves","t":11,"v":33},{"pais":"Reino Unido","tipo":"de aves","t":12,"v":35},{"pais":"Reino Unido","tipo":"de aves","t":13,"v":36},{"pais":"Reino Unido","tipo":"de aves","t":14,"v":37},{"pais":"Reino Unido","tipo":"de aves","t":15,"v":38},{"pais":"Reino Unido","tipo":"de aves","t":16,"v":40},{"pais":"Reino Unido","tipo":"de aves","t":17,"v":42},{"pais":"Reino Unido","tipo":"de aves","t":18,"v":45},{"pais":"Reino Unido","tipo":"de aves","t":19,"v":49},{"pais":"Reino Unido","tipo":"de aves","t":20,"v":51},{"pais":"Reino Unido","tipo":"de aves","t":21,"v":54},{"pais":"Reino Unido","tipo":"de aves","t":22,"v":61},{"pais":"Reino Unido","tipo":"de aves","t":23,"v":67},{"pais":"Reino Unido","tipo":"de aves","t":24,"v":69},{"pais":"Reino Unido","tipo":"de aves","t":25,"v":71},{"pais":"Reino Unido","tipo":"de aves","t":26,"v":76},{"pais":"Reino Unido","tipo":"de aves","t":27,"v":77},{"pais":"Reino Unido","tipo":"de aves","t":28,"v":79},{"pais":"Reino Unido","tipo":"de aves","t":29,"v":80},{"pais":"Reino Unido","tipo":"de aves","t":30,"v":82},{"pais":"Reino Unido","tipo":"de aves","t":31,"v":85},{"pais":"Reino Unido","tipo":"de aves","t":32,"v":84},{"pais":"Reino Unido","tipo":"de aves","t":33,"v":77},{"pais":"Reino Unido","tipo":"de aves","t":34,"v":80},{"pais":"Reino Unido","tipo":"de aves","t":35,"v":84},
{"pais":"Reino Unido","tipo":"carne de carneiro e de cabra","t":0,"v":31},{"pais":"Reino Unido","tipo":"carne de carneiro e de cabra","t":1,"v":30},{"pais":"Reino Unido","tipo":"carne de carneiro e de cabra","t":2,"v":30},{"pais":"Reino Unido","tipo":"carne de carneiro e de cabra","t":3,"v":29},{"pais":"Reino Unido","tipo":"carne de carneiro e de cabra","t":4,"v":29},{"pais":"Reino Unido","tipo":"carne de carneiro e de cabra","t":5,"v":29},{"pais":"Reino Unido","tipo":"carne de carneiro e de cabra","t":6,"v":28},{"pais":"Reino Unido","tipo":"carne de carneiro e de cabra","t":7,"v":27},{"pais":"Reino Unido","tipo":"carne de carneiro e de cabra","t":8,"v":26},{"pais":"Reino Unido","tipo":"carne de carneiro e de cabra","t":9,"v":23},{"pais":"Reino Unido","tipo":"carne de carneiro e de cabra","t":10,"v":21},{"pais":"Reino Unido","tipo":"carne de carneiro e de cabra","t":11,"v":20},{"pais":"Reino Unido","tipo":"carne de carneiro e de cabra","t":12,"v":19},{"pais":"Reino Unido","tipo":"carne de carneiro e de cabra","t":13,"v":19},{"pais":"Reino Unido","tipo":"carne de carneiro e de cabra","t":14,"v":20},{"pais":"Reino Unido","tipo":"carne de carneiro e de cabra","t":15,"v":19},{"pais":"Reino Unido","tipo":"carne de carneiro e de cabra","t":16,"v":19},{"pais":"Reino Unido","tipo":"carne de carneiro e de cabra","t":17,"v":19},{"pais":"Reino Unido","tipo":"carne de carneiro e de cabra","t":18,"v":19},{"pais":"Reino Unido","tipo":"carne de carneiro e de cabra","t":19,"v":18},{"pais":"Reino Unido","tipo":"carne de carneiro e de cabra","t":20,"v":18},{"pais":"Reino Unido","tipo":"carne de carneiro e de cabra","t":21,"v":18},{"pais":"Reino Unido","tipo":"carne de carneiro e de cabra","t":22,"v":18},{"pais":"Reino Unido","tipo":"carne de carneiro e de cabra","t":23,"v":17},{"pais":"Reino Unido","tipo":"carne de carneiro e de cabra","t":24,"v":17},{"pais":"Reino Unido","tipo":"carne de carneiro e de cabra","t":25,"v":17},{"pais":"Reino Unido","tipo":"carne de carneiro e de cabra","t":26,"v":17},{"pais":"Reino Unido","tipo":"carne de carneiro e de cabra","t":27,"v":17},{"pais":"Reino Unido","tipo":"carne de carneiro e de cabra","t":28,"v":16},{"pais":"Reino Unido","tipo":"carne de carneiro e de cabra","t":29,"v":15},{"pais":"Reino Unido","tipo":"carne de carneiro e de cabra","t":30,"v":15},{"pais":"Reino Unido","tipo":"carne de carneiro e de cabra","t":31,"v":15},{"pais":"Reino Unido","tipo":"carne de carneiro e de cabra","t":32,"v":15},{"pais":"Reino Unido","tipo":"carne de carneiro e de cabra","t":33,"v":14},{"pais":"Reino Unido","tipo":"carne de carneiro e de cabra","t":34,"v":13},{"pais":"Reino Unido","tipo":"carne de carneiro e de cabra","t":35,"v":12},
{"pais":"Reino Unido","tipo":"outros","t":0,"v":3},{"pais":"Reino Unido","tipo":"outros","t":1,"v":3},{"pais":"Reino Unido","tipo":"outros","t":2,"v":2},{"pais":"Reino Unido","tipo":"outros","t":3,"v":2},{"pais":"Reino Unido","tipo":"outros","t":4,"v":2},{"pais":"Reino Unido","tipo":"outros","t":5,"v":2},{"pais":"Reino Unido","tipo":"outros","t":6,"v":2},{"pais":"Reino Unido","tipo":"outros","t":7,"v":1},{"pais":"Reino Unido","tipo":"outros","t":8,"v":1},{"pais":"Reino Unido","tipo":"outros","t":9,"v":1},{"pais":"Reino Unido","tipo":"outros","t":10,"v":1},{"pais":"Reino Unido","tipo":"outros","t":11,"v":1},{"pais":"Reino Unido","tipo":"outros","t":12,"v":1},{"pais":"Reino Unido","tipo":"outros","t":13,"v":1},{"pais":"Reino Unido","tipo":"outros","t":14,"v":1},{"pais":"Reino Unido","tipo":"outros","t":15,"v":1},{"pais":"Reino Unido","tipo":"outros","t":16,"v":1},{"pais":"Reino Unido","tipo":"outros","t":17,"v":1},{"pais":"Reino Unido","tipo":"outros","t":18,"v":1},{"pais":"Reino Unido","tipo":"outros","t":19,"v":1},{"pais":"Reino Unido","tipo":"outros","t":20,"v":1},{"pais":"Reino Unido","tipo":"outros","t":21,"v":1},{"pais":"Reino Unido","tipo":"outros","t":22,"v":1},{"pais":"Reino Unido","tipo":"outros","t":23,"v":1},{"pais":"Reino Unido","tipo":"outros","t":24,"v":1},{"pais":"Reino Unido","tipo":"outros","t":25,"v":1},{"pais":"Reino Unido","tipo":"outros","t":26,"v":1},{"pais":"Reino Unido","tipo":"outros","t":27,"v":1},{"pais":"Reino Unido","tipo":"outros","t":28,"v":1},{"pais":"Reino Unido","tipo":"outros","t":29,"v":2},{"pais":"Reino Unido","tipo":"outros","t":30,"v":1},{"pais":"Reino Unido","tipo":"outros","t":31,"v":1},{"pais":"Reino Unido","tipo":"outros","t":32,"v":1},{"pais":"Reino Unido","tipo":"outros","t":33,"v":1},{"pais":"Reino Unido","tipo":"outros","t":34,"v":2},{"pais":"Reino Unido","tipo":"outros","t":35,"v":3}
]},
"spacing":100,
"bounds":"flush",
"resolve":{"scale":{"color":"independent","stroke":"independent"},"legend":{"color":"independent","stroke":"independent"}},
"hconcat":[
{"title":"Itália","width":141,"height":184,"transform":[{"filter":"datum.pais === 'Itália'"}],
 "layer":[
  {"transform":[{"filter":"datum.tipo === 'carne de carneiro e de cabra' || datum.tipo === 'outros'"}],
   "mark":{"type":"line","strokeWidth":1.3,"interpolate":"monotone"},
   "encoding":{"x":{"field":"t","type":"quantitative","axis":null,"scale":{"domain":[0,35]}},
    "y":{"field":"v","type":"quantitative","title":null,"scale":{"domain":[0,245],"nice":false}},
    "stroke":{"field":"tipo","type":"nominal","scale":{"domain":["carne de carneiro e de cabra","outros"],"range":["#c4683f","#eadcd0"]},
     "legend":{"title":null,"direction":"vertical","legendX":-44,"legendY":250,"encode":{"labels":{"update":{"fill":{"signal":"datum.value === 'outros' ? '#e6d8cc' : '#c4683f'"}}}}}}}},
  {"transform":[{"filter":"datum.tipo === 'bovina' || datum.tipo === 'suína' || datum.tipo === 'de aves'"}],
   "mark":{"type":"line","strokeWidth":1.3,"interpolate":"monotone"},
   "encoding":{"x":{"field":"t","type":"quantitative","axis":null,"scale":{"domain":[0,35]}},
    "y":{"field":"v","type":"quantitative","title":null,"scale":{"domain":[0,245],"nice":false}},
    "color":{"field":"tipo","type":"nominal","scale":{"domain":["bovina","suína","de aves"],"range":["#434679","#c8474f","#8cad56"]},
     "legend":{"title":null,"direction":"horizontal","legendX":-44,"legendY":231,"encode":{"labels":{"update":{"fill":{"signal":"datum.value === 'bovina' ? '#2f3a6e' : datum.value === 'suína' ? '#c8434f' : '#88a94c'"}}}}}}}}
 ]},
{"title":"Espanha","width":141,"height":184,"transform":[{"filter":"datum.pais === 'Espanha'"}],
 "layer":[
  {"transform":[{"filter":"datum.tipo === 'carne de carneiro e de cabra' || datum.tipo === 'outros'"}],
   "mark":{"type":"line","strokeWidth":1.3,"interpolate":"monotone"},
   "encoding":{"x":{"field":"t","type":"quantitative","axis":null,"scale":{"domain":[0,35]}},
    "y":{"field":"v","type":"quantitative","title":null,"scale":{"domain":[0,245],"nice":false}},
    "stroke":{"field":"tipo","type":"nominal","scale":{"domain":["carne de carneiro e de cabra","outros"],"range":["#c4683f","#eadcd0"]},
     "legend":{"title":null,"direction":"vertical","legendX":-44,"legendY":250,"encode":{"labels":{"update":{"fill":{"signal":"datum.value === 'outros' ? '#e6d8cc' : '#c4683f'"}}}}}}}},
  {"transform":[{"filter":"datum.tipo === 'bovina' || datum.tipo === 'suína' || datum.tipo === 'de aves'"}],
   "mark":{"type":"line","strokeWidth":1.3,"interpolate":"monotone"},
   "encoding":{"x":{"field":"t","type":"quantitative","axis":null,"scale":{"domain":[0,35]}},
    "y":{"field":"v","type":"quantitative","title":null,"scale":{"domain":[0,245],"nice":false}},
    "color":{"field":"tipo","type":"nominal","scale":{"domain":["bovina","suína","de aves"],"range":["#434679","#c8474f","#8cad56"]},
     "legend":{"title":null,"direction":"horizontal","legendX":-44,"legendY":231,"encode":{"labels":{"update":{"fill":{"signal":"datum.value === 'bovina' ? '#2f3a6e' : datum.value === 'suína' ? '#c8434f' : '#88a94c'"}}}}}}}}
 ]},
{"title":"Portugal","width":141,"height":184,"transform":[{"filter":"datum.pais === 'Portugal'"}],
 "layer":[
  {"transform":[{"filter":"datum.tipo === 'carne de carneiro e de cabra' || datum.tipo === 'outros'"}],
   "mark":{"type":"line","strokeWidth":1.3,"interpolate":"monotone"},
   "encoding":{"x":{"field":"t","type":"quantitative","axis":null,"scale":{"domain":[0,35]}},
    "y":{"field":"v","type":"quantitative","title":null,"scale":{"domain":[0,245],"nice":false}},
    "stroke":{"field":"tipo","type":"nominal","scale":{"domain":["carne de carneiro e de cabra","outros"],"range":["#c4683f","#eadcd0"]},
     "legend":{"title":null,"direction":"vertical","legendX":-44,"legendY":250,"encode":{"labels":{"update":{"fill":{"signal":"datum.value === 'outros' ? '#e6d8cc' : '#c4683f'"}}}}}}}},
  {"transform":[{"filter":"datum.tipo === 'bovina' || datum.tipo === 'suína' || datum.tipo === 'de aves'"}],
   "mark":{"type":"line","strokeWidth":1.3,"interpolate":"monotone"},
   "encoding":{"x":{"field":"t","type":"quantitative","axis":null,"scale":{"domain":[0,35]}},
    "y":{"field":"v","type":"quantitative","title":null,"scale":{"domain":[0,245],"nice":false}},
    "color":{"field":"tipo","type":"nominal","scale":{"domain":["bovina","suína","de aves"],"range":["#434679","#c8474f","#8cad56"]},
     "legend":{"title":null,"direction":"horizontal","legendX":-44,"legendY":231,"encode":{"labels":{"update":{"fill":{"signal":"datum.value === 'bovina' ? '#2f3a6e' : datum.value === 'suína' ? '#c8434f' : '#88a94c'"}}}}}}}}
 ]},
{"title":"Reino Unido","width":141,"height":184,"transform":[{"filter":"datum.pais === 'Reino Unido'"}],
 "layer":[
  {"transform":[{"filter":"datum.tipo === 'carne de carneiro e de cabra' || datum.tipo === 'outros'"}],
   "mark":{"type":"line","strokeWidth":1.3,"interpolate":"monotone"},
   "encoding":{"x":{"field":"t","type":"quantitative","axis":null,"scale":{"domain":[0,35]}},
    "y":{"field":"v","type":"quantitative","title":null,"scale":{"domain":[0,245],"nice":false}},
    "stroke":{"field":"tipo","type":"nominal","scale":{"domain":["carne de carneiro e de cabra","outros"],"range":["#c4683f","#eadcd0"]},
     "legend":{"title":null,"direction":"vertical","legendX":-44,"legendY":250,"encode":{"labels":{"update":{"fill":{"signal":"datum.value === 'outros' ? '#e6d8cc' : '#c4683f'"}}}}}}}},
  {"transform":[{"filter":"datum.tipo === 'bovina' || datum.tipo === 'suína' || datum.tipo === 'de aves'"}],
   "mark":{"type":"line","strokeWidth":1.3,"interpolate":"monotone"},
   "encoding":{"x":{"field":"t","type":"quantitative","axis":null,"scale":{"domain":[0,35]}},
    "y":{"field":"v","type":"quantitative","title":null,"scale":{"domain":[0,245],"nice":false}},
    "color":{"field":"tipo","type":"nominal","scale":{"domain":["bovina","suína","de aves"],"range":["#434679","#c8474f","#8cad56"]},
     "legend":{"title":null,"direction":"horizontal","legendX":-44,"legendY":231,"encode":{"labels":{"update":{"fill":{"signal":"datum.value === 'bovina' ? '#2f3a6e' : datum.value === 'suína' ? '#c8434f' : '#88a94c'"}}}}}}}}
 ]}
]
}
